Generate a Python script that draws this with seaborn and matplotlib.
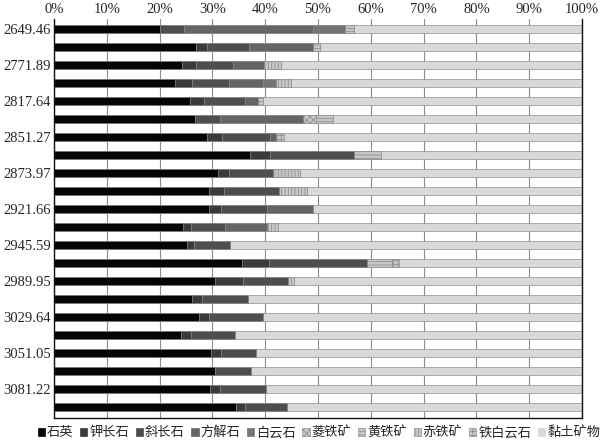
import matplotlib
matplotlib.use("Agg")
import matplotlib.pyplot as plt
from matplotlib.patches import Patch
import numpy as np
import pandas as pd
import seaborn as sns

# depth labels (every second bar is labelled)
depths = ["2649.46", "", "2771.89", "", "2817.64", "", "2851.27", "", "2873.97", "",
          "2921.66", "", "2945.59", "", "2989.95", "", "3029.64", "", "3051.05", "",
          "3081.22", ""]

minerals = ["石英", "钾长石", "斜长石", "方解石", "白云石", "菱铁矿", "黄铁矿", "赤铁矿", "铁白云石", "黏土矿物"]

# percentages, top to bottom
quartz =      [20.1, 26.9, 24.2, 23.0, 25.7, 26.7, 29.0, 37.1, 31.1, 29.3, 29.3,
               24.5, 25.2, 35.7, 30.4, 26.2, 27.4, 24.1, 29.7, 30.5, 29.6, 34.5]
k_feldspar =  [0.0, 2.1, 2.7, 3.2, 2.7, 0.0, 2.9, 3.8, 2.0, 2.9, 2.4,
               1.4, 1.3, 5.1, 5.4, 1.8, 1.9, 1.8, 1.9, 0.0, 1.8, 1.7]
plagioclase = [4.5, 8.0, 7.0, 7.0, 7.7, 4.8, 9.0, 15.9, 8.3, 10.4, 8.6,
               6.4, 6.8, 18.4, 8.5, 8.7, 10.3, 8.3, 6.6, 6.8, 8.7, 8.0]
calcite =     [24.5, 12.0, 5.8, 6.4, 2.6, 15.6, 1.1, 0.0, 0.0, 0.0, 8.8,
               8.0, 0.0, 0.0, 0.0, 0.0, 0.0, 0.0, 0.0, 0.0, 0.0, 0.0]
dolomite =    [6.0, 0.0, 0.0, 2.4, 0.0, 0.0, 0.0, 0.0, 0.0, 0.0, 0.0,
               0.0, 0.0, 0.0, 0.0, 0.0, 0.0, 0.0, 0.0, 0.0, 0.0, 0.0]
siderite =    [0.0, 0.0, 0.0, 0.0, 0.0, 2.5, 0.0, 0.0, 0.0, 0.0, 0.0,
               0.0, 0.0, 0.0, 0.0, 0.0, 0.0, 0.0, 0.0, 0.0, 0.0, 0.0]
pyrite =      [1.8, 1.4, 0.0, 0.0, 0.9, 3.2, 0.0, 5.1, 0.0, 0.0, 0.0,
               0.0, 0.0, 4.8, 0.0, 0.0, 0.0, 0.0, 0.0, 0.0, 0.0, 0.0]
hematite =    [0.0, 0.0, 3.2, 2.8, 0.0, 0.0, 0.0, 0.0, 5.2, 5.4, 0.0,
               2.1, 0.0, 0.0, 1.1, 0.0, 0.0, 0.0, 0.0, 0.0, 0.0, 0.0]
ankerite =    [0.0, 0.0, 0.0, 0.0, 0.0, 0.0, 1.6, 0.0, 0.0, 0.0, 0.0,
               0.0, 0.0, 1.3, 0.0, 0.0, 0.0, 0.0, 0.0, 0.0, 0.0, 0.0]

series = [quartz, k_feldspar, plagioclase, calcite, dolomite,
          siderite, pyrite, hematite, ankerite]
clay = list(100 - np.sum(series, axis=0))
series.append(clay)

colors = ["#050505", "#3a3a3a", "#4e4e4e", "#656565", "#747474",
          "#c8c8c8", "#c8c8c8", "#c8c8c8", "#c8c8c8", "#d9d9d9"]
hatches = [None, None, None, None, None, "xxxxx", "-----", "|||||", "++++", None]

sns.set_theme(style="white")
plt.rcParams["font.family"] = ["Liberation Serif", "Noto Sans CJK SC", "DejaVu Sans"]
plt.rcParams["hatch.linewidth"] = 0.6

rows = np.arange(len(depths))
df = pd.DataFrame({"row": rows})
cum = np.cumsum(np.array(series), axis=0)
for name, c in zip(minerals, cum):
    df[name] = c

fig = plt.figure(figsize=(6.1, 4.43), dpi=100)
ax = fig.add_axes([0.0885, 0.0564, 0.8656, 0.9007])

# overlay cumulative bars, widest first
for i in range(len(minerals) - 1, -1, -1):
    sns.barplot(data=df, x=minerals[i], y="row", orient="h", color=colors[i],
                width=0.45, ax=ax, saturation=1, edgecolor="#909090",
                linewidth=0.5, hatch=hatches[i])

ax.set_xlim(0, 100)
ax.set_ylim(len(depths) - 0.4, -0.55)
ax.set_xticks(np.arange(0, 101, 10))
ax.set_xticklabels([f"{v}%" for v in range(0, 101, 10)], fontsize=10.5)
ax.xaxis.tick_top()
ax.set_yticks(rows[::2])
ax.set_yticklabels(depths[::2], fontsize=10.5)
ax.set_xlabel("")
ax.set_ylabel("")
ax.tick_params(axis="both", length=0, pad=2)
ax.grid(axis="x", color="#8c8c8c", linewidth=0.8)
ax.set_axisbelow(True)
for s in ["left", "right", "bottom"]:
    ax.spines[s].set_color("#111111")
    ax.spines[s].set_linewidth(1.0)
ax.spines["top"].set_visible(False)

handles = [Patch(facecolor=c, edgecolor="#909090" if h else c, hatch=h, linewidth=0.5, label=m)
           for m, c, h in zip(minerals, colors, hatches)]
fig.legend(handles=handles, loc="center", bbox_to_anchor=(0.523, 0.023), ncol=10,
           frameon=False, fontsize=9.5, handlelength=0.55, handleheight=0.55,
           handletextpad=0.15, columnspacing=0.5, borderaxespad=0, borderpad=0)

fig.savefig("out.png", dpi=100)
